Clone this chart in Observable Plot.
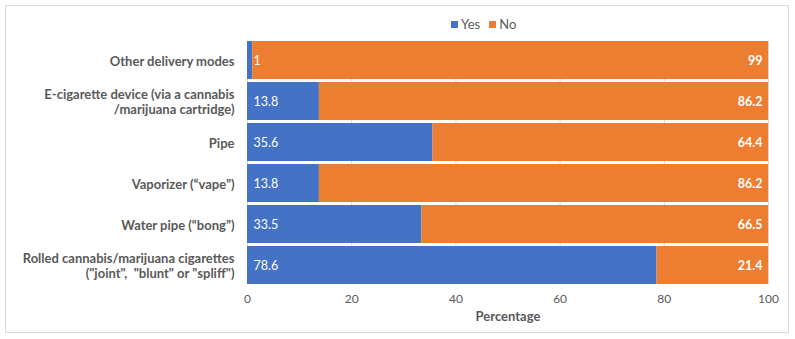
<!DOCTYPE html>
<html>
<head>
<meta charset="utf-8">
<script src="https://cdn.jsdelivr.net/npm/d3@7"></script>
<script src="https://cdn.jsdelivr.net/npm/@observablehq/plot@0.6"></script>
<style>
  body { margin: 0; background: #fff; font-family: Lato, "Open Sans", sans-serif; }
  #chart { position: relative; width: 795px; height: 339px; }
  #frame { position: absolute; left: 5px; top: 5px; width: 784px; height: 328px; border: 1px solid #d9d9d9; box-sizing: border-box; pointer-events: none; }
  #legend { height: 36px; position: relative; }
  #legend .items { position: absolute; left: 451px; top: 16px; display: flex; gap: 9px; font-size: 13px; color: #595959; align-items: center; line-height: 16px; }
  #legend .sw { display: inline-block; width: 7px; height: 7px; margin-right: 3px; vertical-align: 1px; }
</style>
</head>
<body>
<div id="chart">
  <div id="frame"></div>
  <div id="legend"><div class="items"></div></div>
  <div id="plot"></div>
</div>
<script>
const categories = [
  "Other delivery modes",
  "E-cigarette device (via a cannabis\n/marijuana cartridge)",
  "Pipe",
  "Vaporizer (\u201Cvape\u201D)",
  "Water pipe (\u201Cbong\u201D)",
  "Rolled cannabis/marijuana cigarettes\n(\"joint\",  \"blunt\" or \"spliff\")"
];
const yesValues = [1, 13.8, 35.6, 13.8, 33.5, 78.6];
const noValues = [99, 86.2, 64.4, 86.2, 66.5, 21.4];
const seriesNames = ["Yes", "No"];
const seriesColors = ["#4472C4", "#ED7D31"];
const xTicks = [0, 20, 40, 60, 80, 100];

const rows = [];
categories.forEach((c, i) => {
  rows.push({category: c, series: "Yes", value: yesValues[i], total: yesValues[i] + noValues[i]});
  rows.push({category: c, series: "No", value: noValues[i], total: yesValues[i] + noValues[i]});
});
const yesRows = rows.filter(d => d.series === "Yes");
const noRows = rows.filter(d => d.series === "No");

// legend
const items = document.querySelector("#legend .items");
seriesNames.forEach((s, i) => {
  const span = document.createElement("span");
  span.innerHTML = `<span class="sw" style="background:${seriesColors[i]}"></span>${s}`;
  items.appendChild(span);
});

const chart = Plot.plot({
  width: 795,
  height: 303,
  marginTop: 5,
  marginBottom: 55,
  marginLeft: 247,
  marginRight: 27,
  style: {fontFamily: "Lato, 'Open Sans', sans-serif", background: "transparent"},
  x: {domain: [0, 100]},
  y: {domain: categories, paddingInner: 0.085, paddingOuter: 0},
  color: {domain: seriesNames, range: seriesColors},
  marks: [
    Plot.gridX(xTicks, {stroke: "#d9d9d9", strokeOpacity: 1, y1: null, y2: null}),
    Plot.barX(rows, {x: "value", y: "category", fill: "series", order: seriesNames}),
    Plot.text(yesRows, {x: 0, y: "category", text: d => String(d.value), textAnchor: "start", dx: 6, fill: "white", fontSize: 12.5}),
    Plot.text(noRows, {x: "total", y: "category", text: d => String(d.value), textAnchor: "end", dx: -6, fill: "white", fontSize: 12.5, fontWeight: "bold"}),
    Plot.axisX(xTicks, {tickSize: 0, tickPadding: 10, fontSize: 12, color: "#595959", label: null}),
    Plot.axisX([], {tickSize: 0, fontSize: 13, fontWeight: "bold", color: "#595959", label: "Percentage", labelAnchor: "center", labelArrow: "none", labelOffset: 36}),
    Plot.axisY({tickSize: 0, tickPadding: 13, fontSize: 13, fontWeight: "bold", color: "#595959", label: null, lineHeight: 1.2})
  ]
});
document.getElementById("plot").appendChild(chart);
</script>
</body>
</html>
